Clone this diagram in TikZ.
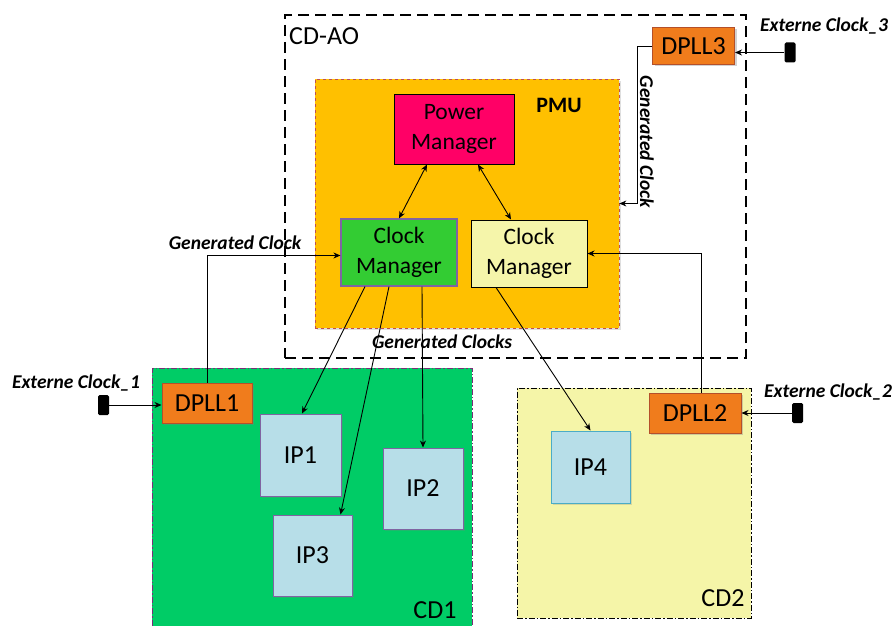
\documentclass[tikz,border=0pt]{standalone}
\usepackage{fontspec}
\setmainfont{Carlito}
\usetikzlibrary{arrows.meta,shadows}
\definecolor{pmuorange}{HTML}{FFC000}
\definecolor{pmred}{HTML}{FF0066}
\definecolor{cmgreen}{HTML}{33CC33}
\definecolor{cmyellow}{HTML}{F5F5AA}
\definecolor{cdgreen}{HTML}{00CC66}
\definecolor{cdyellow}{HTML}{F5F5A8}
\definecolor{dpllfill}{HTML}{F07C1C}
\definecolor{dpllborder}{HTML}{B4502A}
\definecolor{ipblue}{HTML}{B7DEE8}
\definecolor{ipborder}{HTML}{8064A2}
\definecolor{ip4border}{HTML}{4BACC6}
\definecolor{pmuborder}{HTML}{C0504D}
\definecolor{cdpurple}{HTML}{7A2E78}
\tikzset{
  box/.style={rectangle, inner sep=0pt, align=center},
  regular/.style={font=\fontsize{23.5}{30}\selectfont},
  big/.style={font=\fontsize{26}{28}\selectfont},
  lab/.style={font=\fontsize{19.5}{22}\selectfont\bfseries\itshape, inner sep=0pt},
  dpllbox/.style={box, big, fill=dpllfill, draw=dpllborder, line width=1pt,
    minimum height=40pt, drop shadow={shadow xshift=2pt, shadow yshift=-2pt, opacity=0.35}},
  ipbox/.style={box, big, fill=ipblue, draw=ipborder, line width=1pt,
    drop shadow={shadow xshift=1.5pt, shadow yshift=-1.5pt, opacity=0.25}},
  term/.style={rectangle, rounded corners=1.5pt, fill=black, inner sep=0pt, minimum width=11pt, minimum height=20pt},
  conn/.style={line width=0.9pt, -{Stealth[length=7pt,width=6pt]}},
  biconn/.style={line width=0.9pt, {Stealth[length=7pt,width=6pt]}-{Stealth[length=7pt,width=6pt]}},
  plain/.style={line width=0.9pt},
}
\begin{document}
\begin{tikzpicture}[x=1pt,y=-1pt]
\useasboundingbox (0,0) rectangle (894,626);
\fill[white] (0,0) rectangle (894,626);

% CD-AO domain
\node[box, draw=black, line width=2.6pt, dash pattern=on 11pt off 6pt,
  minimum width=461pt, minimum height=343pt] (cdao) at (515.5,186.5) {};
\node[anchor=west, inner sep=0pt, big] (cdaolab) at (289,36) {CD-AO};

% PMU
\node[box, fill=pmuorange, draw=pmuborder, line width=0.8pt, dashed,
  minimum width=304pt, minimum height=249pt,
  drop shadow={shadow xshift=1.5pt, shadow yshift=-1.5pt, opacity=0.25}] (pmu) at (467,203.5) {};
\node[inner sep=0pt, font=\fontsize{22}{26}\selectfont\bfseries] (pmulab) at (559,105) {PMU};

\node[box, regular, fill=pmred, draw=black, line width=1pt, minimum width=120pt, minimum height=70pt] (pm) at (454,129) {Power\\Manager};
\node[box, regular, fill=cmgreen, draw=ipborder, line width=1.2pt, minimum width=116pt, minimum height=67pt] (cm1) at (399,252.5) {Clock\\Manager};
\node[box, regular, fill=cmyellow, draw=black, line width=1pt, minimum width=116pt, minimum height=67pt] (cm2) at (529,253.5) {Clock\\Manager};

% CD1
\node[box, fill=cdgreen, draw=cdpurple, line width=1pt, dash pattern=on 6pt off 2pt on 1.5pt off 2pt,
  minimum width=320pt, minimum height=270pt] (cd1) at (312,503) {};
\node[inner sep=0pt, big] (cd1lab) at (435,610) {CD1};

% CD2
\node[box, fill=cdyellow, draw=black, line width=1pt, dash pattern=on 6pt off 2pt on 1.5pt off 2pt,
  minimum width=234pt, minimum height=230pt] (cd2) at (634,503) {};
\node[inner sep=0pt, big] (cd2lab) at (723,598) {CD2};

% DPLLs
\node[dpllbox, minimum width=90pt] (dpll1) at (207,403) {DPLL1};
\node[dpllbox, minimum width=92pt] (dpll2) at (695,413) {DPLL2};
\node[dpllbox, minimum width=82pt, minimum height=37pt] (dpll3) at (693.5,46) {DPLL3};

% IPs
\node[ipbox, minimum width=81pt, minimum height=82pt] (ip1) at (300.5,455) {IP1};
\node[ipbox, minimum width=80pt, minimum height=81pt] (ip2) at (423,488.5) {IP2};
\node[ipbox, minimum width=79pt, minimum height=81pt] (ip3) at (312.5,555.5) {IP3};
\node[ipbox, draw=ip4border, minimum width=79pt, minimum height=72pt] (ip4) at (590.5,467) {IP4};

% terminals
\node[term] (t1) at (103.5,405) {};
\node[term] (t2) at (797.5,413) {};
\node[term] (t3) at (790,52.5) {};

% labels
\node[lab] (ext1) at (76,383) {Externe Clock\_1};
\node[lab] (ext2) at (828,392) {Externe Clock\_2};
\node[lab] (ext3) at (824,26) {Externe Clock\_3};
\node[lab] (gen1) at (235,243) {Generated Clock};
\node[lab] (gens) at (442,342) {Generated Clocks};
\node[lab, rotate=-90] (gen3) at (647,142) {Generated Clock};

% connectors
\draw[conn] (t1.east) -- (t1.east -| dpll1.west);
\draw[conn] (t2.west) -- (t2.west -| dpll2.east);
\draw[conn] (t3.west) -- (t3.west -| dpll3.east);

\draw[conn] (dpll1.north) |- ([yshift=-3pt]cm1.west);
\draw[conn] ([xshift=6pt]dpll2.north) |- (cm2.east);
\coordinate (g3) at (637,46);
\draw[conn] (dpll3.west) -- (g3) |- (pmu.east);

\draw[biconn] ([xshift=-27pt]pm.south) -- (cm1.north);
\draw[biconn] ([xshift=24pt]pm.south) -- ([xshift=-18pt]cm2.north);

\draw[conn] ([xshift=-34pt]cm1.south) -- ([xshift=1.5pt]ip1.north);
\draw[conn] ([xshift=-10pt]cm1.south) -- ([xshift=28pt]ip3.north);
\draw[conn] ([xshift=23pt]cm1.south) -- (ip2.north);
\draw[conn] ([xshift=-33pt]cm2.south) -- (ip4.north);
\end{tikzpicture}
\end{document}
